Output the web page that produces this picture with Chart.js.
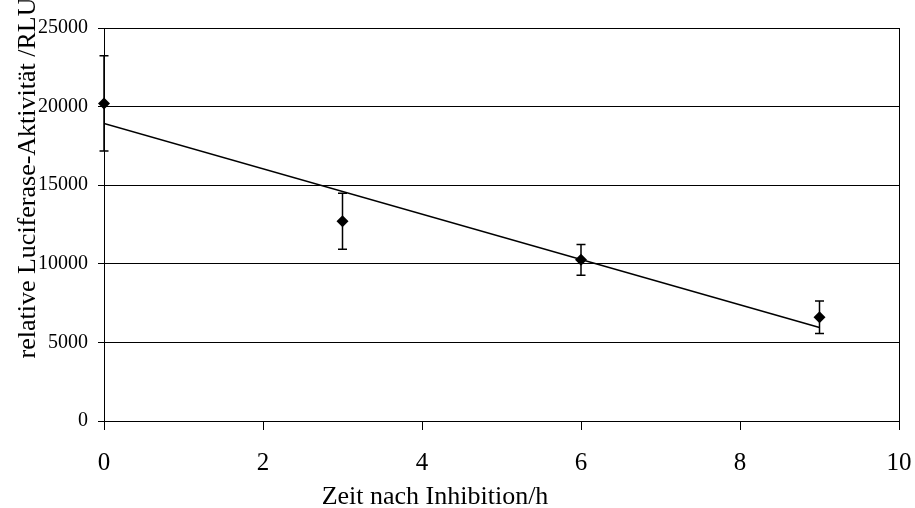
<!DOCTYPE html>
<html>
<head>
<meta charset="utf-8">
<script src="https://cdn.jsdelivr.net/npm/chart.js@4/dist/chart.umd.min.js"></script>
<style>
  html, body { margin: 0; padding: 0; background: #fff; }
  #wrap { width: 915px; height: 508px; }
</style>
</head>
<body>
<div id="wrap"><canvas id="luciChart" width="915" height="508"></canvas></div>
<script>
// values
const hours = [0, 3, 6, 9];
const activity = [20200, 12700, 10250, 6600];
const errors = [3030, 1780, 975, 1030];
const xTicks = [0, 2, 4, 6, 8, 10];
const yTicks = [0, 5000, 10000, 15000, 20000, 25000];

const xTitle = 'Zeit nach Inhibition/h';
const yTitle = 'relative Luciferase-Aktivität /RLU';

// linear trendline through the measured points
const n = hours.length;
const mx = hours.reduce((a, b) => a + b, 0) / n;
const my = activity.reduce((a, b) => a + b, 0) / n;
let sxy = 0, sxx = 0;
for (let i = 0; i < n; i++) {
  sxy += (hours[i] - mx) * (activity[i] - my);
  sxx += (hours[i] - mx) * (hours[i] - mx);
}
const slope = sxy / sxx;
const intercept = my - slope * mx;
const trendX = [hours[0], hours[n - 1]];

const serif = 'Liberation Serif';

const errorBars = {
  id: 'errorBars',
  afterDatasetsDraw(chart) {
    const ctx = chart.ctx;
    const xs = chart.scales.x, ys = chart.scales.y;
    ctx.save();
    ctx.strokeStyle = '#000';
    ctx.lineWidth = 1.5;
    hours.forEach((h, i) => {
      const px = xs.getPixelForValue(h);
      const top = ys.getPixelForValue(activity[i] + errors[i]);
      const bot = ys.getPixelForValue(activity[i] - errors[i]);
      ctx.beginPath();
      ctx.moveTo(px, top); ctx.lineTo(px, bot);
      ctx.moveTo(px - 4.5, top); ctx.lineTo(px + 4.5, top);
      ctx.moveTo(px - 4.5, bot); ctx.lineTo(px + 4.5, bot);
      ctx.stroke();
    });
    ctx.restore();
  }
};

// axis titles sit off-centre in the original, so they are placed by hand
const axisTitles = {
  id: 'axisTitles',
  afterDraw(chart) {
    const ctx = chart.ctx;
    ctx.save();
    ctx.fillStyle = '#000';
    ctx.font = '26px "' + serif + '"';
    ctx.textAlign = 'center';
    ctx.textBaseline = 'alphabetic';
    ctx.fillText(xTitle, 435, 504);
    ctx.translate(35, 178);
    ctx.rotate(-Math.PI / 2);
    ctx.fillText(yTitle, 0, 0);
    ctx.restore();
  }
};

new Chart(document.getElementById('luciChart').getContext('2d'), {
  type: 'scatter',
  data: {
    datasets: [
      {
        label: 'Messwerte',
        data: hours.map((h, i) => ({ x: h, y: activity[i] })),
        pointStyle: 'rectRot',
        pointRadius: 6,
        backgroundColor: '#000',
        borderColor: '#000',
        borderWidth: 0,
        showLine: false,
        clip: false,
        order: 0
      },
      {
        label: 'Trend',
        data: trendX.map(x => ({ x: x, y: intercept + slope * x })),
        showLine: true,
        borderColor: '#000',
        borderWidth: 1.5,
        pointRadius: 0,
        fill: false,
        order: 1
      }
    ]
  },
  options: {
    responsive: false,
    animation: false,
    layout: { padding: { left: 0, top: 28, right: 16, bottom: 0 } },
    plugins: { legend: { display: false }, tooltip: { enabled: false } },
    scales: {
      x: {
        type: 'linear',
        min: 0,
        max: 10,
        afterBuildTicks: s => { s.ticks = xTicks.map(v => ({ value: v })); },
        afterFit: s => { s.height = 87; s.paddingLeft = 0; s.paddingRight = 0; },
        border: { color: '#000', width: 1 },
        grid: {
          color: c => (c.tick && c.tick.value === 10 ? '#000' : 'rgba(0,0,0,0)'),
          tickColor: '#000',
          tickLength: 9,
          lineWidth: 1
        },
        ticks: {
          color: '#000',
          padding: 18,
          maxRotation: 0,
          callback: v => String(v),
          font: { family: serif, size: 25 }
        }
      },
      y: {
        type: 'linear',
        min: 0,
        max: 25000,
        afterBuildTicks: s => { s.ticks = yTicks.map(v => ({ value: v })); },
        afterFit: s => { s.width = 104; s.paddingTop = 0; s.paddingBottom = 0; },
        border: { color: '#000', width: 1 },
        grid: {
          color: '#000',
          tickColor: '#000',
          tickLength: 6,
          lineWidth: 1
        },
        ticks: {
          color: '#000',
          padding: 10,
          callback: v => String(v),
          font: { family: serif, size: 20 }
        }
      }
    }
  },
  plugins: [errorBars, axisTitles]
});
</script>
</body>
</html>
